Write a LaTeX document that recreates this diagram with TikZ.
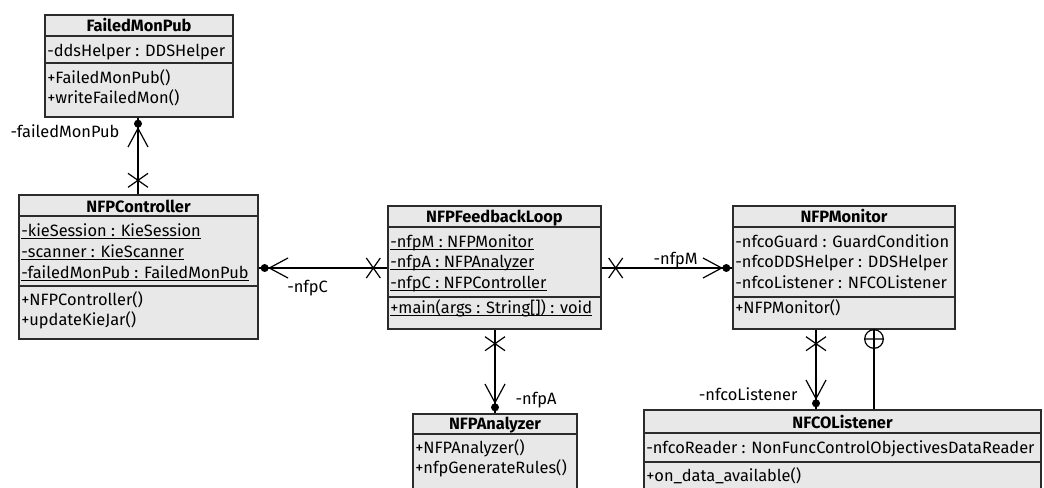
\documentclass[tikz,border=0pt]{standalone}
\usepackage{fontspec}
\setmainfont{Fira Sans}
\usepackage{xcolor}
\usetikzlibrary{fit, decorations.markings}
\definecolor{clsfill}{HTML}{E8E8E8}
\definecolor{clsline}{HTML}{2B2B2B}
\newsavebox{\statbox}
\newcommand{\stat}[1]{\sbox\statbox{#1}\rlap{\rule[-1.8pt]{\wd\statbox}{0.6pt}}\usebox\statbox}

\begin{document}
\begin{tikzpicture}[
  x=0.75pt, y=-0.75pt,
  font=\fontsize{12.3}{14}\selectfont,
  cls/.style={rectangle, draw=clsline, fill=clsfill, line width=1pt, inner sep=0pt},
  sepl/.style={draw=clsline, line width=1pt},
  ttl/.style={anchor=base, inner sep=0pt, font=\fontsize{12.3}{14}\selectfont\bfseries},
  mem/.style={anchor=base west, inner sep=0pt},
  lbl/.style={inner sep=0pt},
  assoc/.style={draw=black, line width=0.9pt, postaction={decorate}, decoration={markings,
    mark=at position 10.5pt with {\draw[line width=0.9pt] (-5.25pt,-7.5pt) -- (5.25pt,7.5pt) (-5.25pt,7.5pt) -- (5.25pt,-7.5pt);},
    mark=at position 1 with {\fill (-4.5pt,0) circle (3pt); \draw[line width=0.9pt] (-22pt,7.5pt) -- (-8pt,0) -- (-22pt,-7.5pt);}}},
  nest/.style={draw=black, line width=0.9pt, postaction={decorate}, decoration={markings,
    mark=at position 0 with {\draw[line width=0.9pt] (7pt,0) circle (7pt) (7pt,-7pt) -- (7pt,7pt);}}}
]
\useasboundingbox (0,0) rectangle (1044,487);
\clip (0,0) rectangle (1044,487);

% FailedMonPub
\node[cls, fit={(45,15) (233,117)}] (fmp) {};
\draw[sepl] (45,36) -- (233,36) (45,63) -- (233,63);
\node[ttl] (fmpT) at (139,31) {FailedMonPub};
\node[mem] (fmpA1) at (47,56) {-ddsHelper : DDSHelper};
\node[mem] (fmpM1) at (47,83) {+FailedMonPub()};
\node[mem] (fmpM2) at (47,103) {+writeFailedMon()};

% NFPController
\node[cls, fit={(19,195) (258,339)}] (ctl) {};
\draw[sepl] (19,216) -- (258,216) (19,286) -- (258,286);
\node[ttl] (ctlT) at (138.5,212) {NFPController};
\node[mem] (ctlA1) at (21,236) {\stat{-kieSession : KieSession}};
\node[mem] (ctlA2) at (21,257) {\stat{-scanner : KieScanner}};
\node[mem] (ctlA3) at (21,278) {\stat{-failedMonPub : FailedMonPub}};
\node[mem] (ctlM1) at (21,305) {+NFPController()};
\node[mem] (ctlM2) at (21,325) {+updateKieJar()};

% NFPFeedbackLoop
\node[cls, fit={(388,206) (601,329)}] (fbl) {};
\draw[sepl] (388,227) -- (601,227) (388,297) -- (601,297);
\node[ttl] (fblT) at (494.5,222) {NFPFeedbackLoop};
\node[mem] (fblA1) at (390,247) {\stat{-nfpM : NFPMonitor}};
\node[mem] (fblA2) at (390,267) {\stat{-nfpA : NFPAnalyzer}};
\node[mem] (fblA3) at (390,288) {\stat{-nfpC : NFPController}};
\node[mem] (fblM1) at (390,313) {\stat{+main(args : String[]) : void}};

% NFPMonitor
\node[cls, fit={(733,206) (955,329)}] (mon) {};
\draw[sepl] (733,227) -- (955,227) (733,297) -- (955,297);
\node[ttl] (monT) at (844,222) {NFPMonitor};
\node[mem] (monA1) at (735,247) {-nfcoGuard : GuardCondition};
\node[mem] (monA2) at (735,267) {-nfcoDDSHelper : DDSHelper};
\node[mem] (monA3) at (735,288) {-nfcoListener : NFCOListener};
\node[mem] (monM1) at (735,313) {+NFPMonitor()};

% NFPAnalyzer
\node[cls, fit={(413,414) (577,510)}] (ana) {};
\draw[sepl] (413,434) -- (577,434);
\node[ttl] (anaT) at (495,429) {NFPAnalyzer};
\node[mem] (anaM1) at (415,453) {+NFPAnalyzer()};
\node[mem] (anaM2) at (415,473) {+nfpGenerateRules()};

% NFCOListener
\node[cls, fit={(644,410) (1041,510)}] (lis) {};
\draw[sepl] (644,433) -- (1041,433) (644,462) -- (1041,462);
\node[ttl] (lisT) at (842.5,428) {NFCOListener};
\node[mem] (lisA1) at (646,453) {-nfcoReader : NonFuncControlObjectivesDataReader};
\node[mem] (lisM1) at (646,481) {+on\_data\_available()};

% associations
\draw[assoc] (138,0 |- ctl.north) -- (138,0 |- fmp.south)
  node[lbl, at end, anchor=base east, xshift=-13.5pt, yshift=-15pt] {-failedMonPub};
\draw[assoc] (fbl.west |- 0,268) -- (ctl.east |- 0,268)
  node[lbl, at end, anchor=base west, xshift=21pt, yshift=-18pt] {-nfpC};
\draw[assoc] (fbl.east |- 0,268) -- (mon.west |- 0,268)
  node[lbl, at end, anchor=base east, xshift=-25.5pt, yshift=3pt] {-nfpM};
\draw[assoc] (495,0 |- fbl.south) -- (495,0 |- ana.north)
  node[lbl, at end, anchor=base west, xshift=15pt, yshift=6.75pt] {-nfpA};
\draw[assoc] (816,0 |- mon.south) -- (816,0 |- lis.north)
  node[lbl, at end, anchor=base east, xshift=-13.5pt, yshift=6.75pt] {-nfcoListener};
\draw[nest] (874,0 |- mon.south) -- (874,0 |- lis.north);

\end{tikzpicture}
\end{document}
